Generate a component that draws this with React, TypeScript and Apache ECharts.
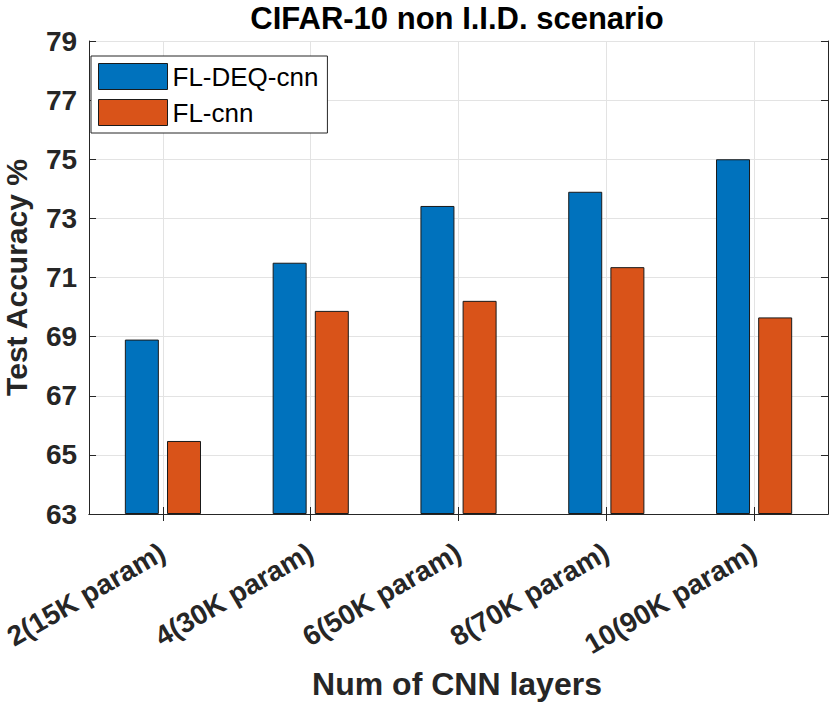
import React, { useEffect, useRef } from "react";
import * as echarts from "echarts";

const categories = [
  "2(15K param)",
  "4(30K param)",
  "6(50K param)",
  "8(70K param)",
  "10(90K param)",
];
const seriesNames = ["FL-DEQ-cnn", "FL-cnn"];
const deqValues = [68.9, 71.5, 73.42, 73.9, 75.0];
const cnnValues = [65.47, 69.87, 70.21, 71.35, 69.65];
const yMin = 63;
const yMax = 79;
const yStep = 2;

const FONT = "'Liberation Sans', Arial, Helvetica, sans-serif";
const AXIS_COLOR = "#262626";
const GRID_COLOR = "#e3e3e3";

export default function App() {
  const ref = useRef<HTMLDivElement>(null);

  useEffect(() => {
    if (!ref.current) return;
    const chart = echarts.init(ref.current, null, { renderer: "svg" });

    const gridLeft = 86;
    const gridRight = 2;
    const gridTop = 41;
    const gridBottom = 191;
    const plotCx = (gridLeft + (830 - gridRight)) / 2;
    const plotCy = (gridTop + (705 - gridBottom)) / 2;

    const tickStyle = { show: true, inside: true, length: 7, lineStyle: { color: AXIS_COLOR, width: 1 } };
    const lineStyle = { show: true, lineStyle: { color: AXIS_COLOR, width: 1 } };

    chart.setOption({
      animation: false,
      backgroundColor: "#ffffff",
      grid: { left: gridLeft, right: gridRight, top: gridTop, bottom: gridBottom, containLabel: false },
      legend: {
        data: seriesNames,
        orient: "vertical",
        left: 91,
        top: 56,
        padding: [7, 9, 7, 7],
        itemGap: 9,
        itemWidth: 69,
        itemHeight: 26,
        icon: "rect",
        backgroundColor: "#ffffff",
        borderColor: AXIS_COLOR,
        borderWidth: 1,
        textStyle: { fontFamily: FONT, fontSize: 26, color: "#000000" },
        itemStyle: { borderColor: "#1a1a1a", borderWidth: 1 },
      },
      xAxis: [
        {
          type: "category",
          data: categories,
          boundaryGap: true,
          position: "bottom",
          axisLine: lineStyle,
          axisTick: { ...tickStyle, alignWithLabel: true },
          axisLabel: {
            interval: 0,
            rotate: 30,
            margin: 36,
            fontFamily: FONT,
            fontSize: 28,
            fontWeight: "bold",
            color: AXIS_COLOR,
          },
          splitLine: { show: true, alignWithLabel: true, lineStyle: { color: GRID_COLOR, width: 1 } },
        },
        {
          type: "category",
          data: categories,
          boundaryGap: true,
          position: "top",
          axisLine: lineStyle,
          axisTick: { ...tickStyle, alignWithLabel: true },
          axisLabel: { show: false },
          splitLine: { show: false },
        },
      ],
      yAxis: [
        {
          type: "value",
          min: 0,
          max: yMax - yMin,
          interval: yStep,
          position: "left",
          axisLine: lineStyle,
          axisTick: tickStyle,
          axisLabel: {
            margin: 12,
            fontFamily: FONT,
            fontSize: 28,
            fontWeight: "bold",
            color: AXIS_COLOR,
            formatter: (v: number) => String(v + yMin),
          },
          splitLine: { show: true, lineStyle: { color: GRID_COLOR, width: 1 } },
        },
        {
          type: "value",
          min: 0,
          max: yMax - yMin,
          interval: yStep,
          position: "right",
          axisLine: lineStyle,
          axisTick: tickStyle,
          axisLabel: { show: false },
          splitLine: { show: false },
        },
      ],
      series: [
        {
          name: seriesNames[0],
          type: "bar",
          xAxisIndex: 0,
          yAxisIndex: 0,
          data: deqValues.map((v) => v - yMin),
          barWidth: 34,
          barGap: "24%",
          itemStyle: { color: "#0072BD", borderColor: "#1a1a1a", borderWidth: 1 },
        },
        {
          name: seriesNames[1],
          type: "bar",
          xAxisIndex: 0,
          yAxisIndex: 0,
          data: cnnValues.map((v) => v - yMin),
          barWidth: 34,
          barGap: "24%",
          itemStyle: { color: "#D95319", borderColor: "#1a1a1a", borderWidth: 1 },
        },
      ],
      graphic: [
        {
          type: "text",
          x: plotCx,
          y: 18,
          style: {
            text: "CIFAR-10 non I.I.D. scenario",
            fontFamily: FONT,
            fontSize: 31,
            fontWeight: "bold",
            fill: "#000000",
            align: "center",
            verticalAlign: "middle",
          },
        },
        {
          type: "text",
          x: plotCx,
          y: 684,
          style: {
            text: "Num of CNN layers",
            fontFamily: FONT,
            fontSize: 32,
            fontWeight: "bold",
            fill: AXIS_COLOR,
            align: "center",
            verticalAlign: "middle",
          },
        },
        {
          type: "text",
          x: 16,
          y: plotCy,
          rotation: Math.PI / 2,
          style: {
            text: "Test Accuracy %",
            fontFamily: FONT,
            fontSize: 30,
            fontWeight: "bold",
            fill: AXIS_COLOR,
            align: "center",
            verticalAlign: "middle",
          },
        },
      ],
    });

    return () => chart.dispose();
  }, []);

  return (
    <div
      ref={ref}
      style={{ position: "fixed", left: 0, top: 0, width: 830, height: 705, background: "#fff" }}
    />
  );
}
